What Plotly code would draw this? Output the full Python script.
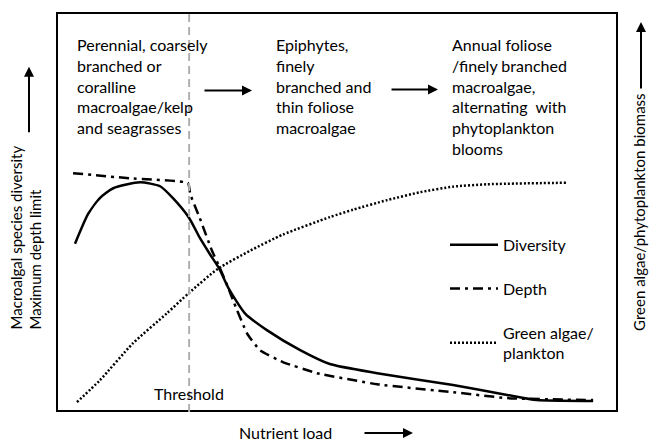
import plotly.graph_objects as go

# ---- data (x: nutrient load, 0-100; y: relative level, 0-100) ----
div_x = [3.05, 5.4, 7.5, 9.9, 14.7, 18.3, 20.6, 23.5, 25.4, 27.2, 28.9, 30.5, 33.5, 37.5, 43.4, 48.7, 57.2, 70.8, 80.5, 85.8, 95.9]
div_y = [42.0, 49.5, 53.5, 56.0, 57.5, 56.5, 53.5, 48.5, 43.5, 39.4, 35.7, 30.9, 24.4, 20.1, 15.1, 11.6, 9.3, 6.3, 3.8, 2.5, 2.3]

dep_x = [2.7, 12.9, 23.3, 23.7, 25.4, 27.6, 29.0, 30.5, 31.4, 33.9, 36.2, 40.3, 46.4, 57.2, 70.8, 80.5, 95.9]
dep_y = [59.8, 58.5, 57.3, 54.5, 48.5, 40.2, 35.9, 30.9, 27.6, 19.3, 15.1, 12.1, 9.3, 6.5, 4.5, 3.0, 2.5]

grn_x = [3.4, 7.5, 13.4, 19.5, 23.5, 28.7, 34.4, 40.3, 48.7, 52.9, 59.0, 64.9, 70.8, 76.9, 91.4]
grn_y = [2.0, 7.5, 16.8, 24.4, 29.6, 35.7, 40.2, 44.3, 48.7, 50.6, 53.0, 55.0, 56.4, 57.0, 57.4]

threshold_x = 23.5

stage_labels = [
    "Perennial, coarsely<br>branched or<br>coralline<br>macroalgae/kelp<br>and seagrasses",
    "Epiphytes,<br>finely<br>branched and<br>thin foliose<br>macroalgae",
    "Annual foliose<br>/finely branched<br>macroalgae,<br>alternating  with<br>phytoplankton<br>blooms",
]

FONT = "Lato"
W, H = 649, 442
L, R, T, B = 58, 616, 12, 410


def px(xp):
    return (xp - L) / (R - L)


def py(yp):
    return (B - yp) / (B - T)


fig = go.Figure()
fig.add_trace(go.Scatter(x=div_x, y=div_y, mode="lines", name="Diversity", legendgroup="a",
                         line=dict(color="black", width=2.5, shape="spline", smoothing=0.6)))
fig.add_trace(go.Scatter(x=dep_x, y=dep_y, mode="lines", name="Depth", legendgroup="b",
                         line=dict(color="black", width=2.5, dash="10px,5px,3px,5px", shape="spline", smoothing=0.4)))
fig.add_trace(go.Scatter(x=grn_x, y=grn_y, mode="lines", name="Green algae/<br>plankton", legendgroup="c",
                         line=dict(color="black", width=2.5, dash="2px,2px", shape="spline", smoothing=0.6)))

fig.add_shape(type="line", xref="x", yref="paper", x0=threshold_x, x1=threshold_x, y0=-0.005, y1=1,
              line=dict(color="#b0b0b0", width=2, dash="8px,5px"))

ann = []
# stage text blocks
for xp, txt in zip([75, 274, 450], stage_labels):
    ann.append(dict(x=px(xp), y=py(31), xref="paper", yref="paper", xanchor="left", yanchor="top",
                    align="left", text=txt, showarrow=False, font=dict(family=FONT, size=16, color="black")))
# inner arrows
for x0, x1, yy in [(203, 252, 89), (390, 438, 88)]:
    ann.append(dict(x=px(x1), y=py(yy), xref="paper", yref="paper", ax=-(x1 - x0), ay=0,
                    text="", showarrow=True, arrowhead=2, arrowsize=1, arrowwidth=2, arrowcolor="black"))
# outer arrows
ann.append(dict(x=px(29), y=py(65), xref="paper", yref="paper", ax=0, ay=67, text="", showarrow=True,
                arrowhead=2, arrowsize=1, arrowwidth=2, arrowcolor="black"))
ann.append(dict(x=px(641), y=py(20), xref="paper", yref="paper", ax=0, ay=68, text="", showarrow=True,
                arrowhead=2, arrowsize=1, arrowwidth=2, arrowcolor="black"))
ann.append(dict(x=px(413), y=py(433), xref="paper", yref="paper", ax=-50, ay=0, text="", showarrow=True,
                arrowhead=2, arrowsize=1, arrowwidth=2, arrowcolor="black"))
# axis titles
ann.append(dict(x=px(26), y=py(331), xref="paper", yref="paper", xanchor="center", yanchor="bottom",
                textangle=-90, align="left", showarrow=False,
                text="Macroalgal species diversity<br>Maximum depth limit",
                font=dict(family=FONT, size=15, color="black")))
ann.append(dict(x=px(639), y=py(332), xref="paper", yref="paper", xanchor="center", yanchor="bottom",
                textangle=-90, showarrow=False, text="Green algae/phytoplankton biomass",
                font=dict(family=FONT, size=15, color="black")))
ann.append(dict(x=px(285), y=py(433), xref="paper", yref="paper", xanchor="center", yanchor="middle",
                showarrow=False, text="Nutrient load", font=dict(family=FONT, size=16, color="black")))
ann.append(dict(x=threshold_x, y=py(393), xref="x", yref="paper", xanchor="center", yanchor="middle",
                showarrow=False, text="Threshold", font=dict(family=FONT, size=16, color="black")))

fig.update_layout(
    width=W, height=H,
    margin=dict(l=L, r=W - R, t=T, b=H - B),
    paper_bgcolor="white", plot_bgcolor="white",
    annotations=ann,
    showlegend=True,
    legend=dict(x=px(445), y=py(227), xanchor="left", yanchor="top", bgcolor="rgba(0,0,0,0)",
                font=dict(family=FONT, size=16, color="black"), tracegroupgap=20, itemwidth=48),
    xaxis=dict(range=[0, 100], showgrid=False, zeroline=False, showticklabels=False, ticks="",
               showline=True, mirror=True, linecolor="black", linewidth=2, fixedrange=True),
    yaxis=dict(range=[0, 100], showgrid=False, zeroline=False, showticklabels=False, ticks="",
               showline=True, mirror=True, linecolor="black", linewidth=2, fixedrange=True),
)

fig.write_html("out.html", config={"displayModeBar": False},
               post_script="document.body.style.margin='0px';document.body.style.overflow='hidden';")
